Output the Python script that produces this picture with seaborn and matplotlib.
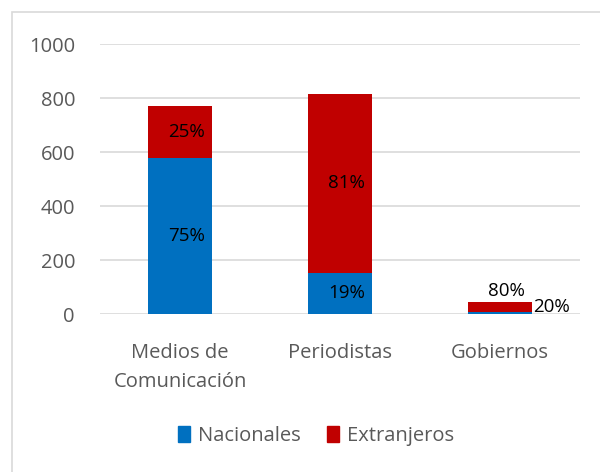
import numpy as np
import pandas as pd
import matplotlib
matplotlib.use("Agg")
import matplotlib.pyplot as plt
from matplotlib.patches import Rectangle, Patch
import seaborn as sns

# datos
categorias = ["Medios de\nComunicación", "Periodistas", "Gobiernos"]
nacionales = [578, 153, 9]
extranjeros = [192, 662, 36]
pct_nac = ["75%", "19%", "20%"]
pct_ext = ["25%", "81%", "80%"]

azul = "#0070c0"
rojo = "#c00000"

df = pd.DataFrame({"cat": categorias, "nac": nacionales, "ext": extranjeros})
df["total"] = df["nac"] + df["ext"]

sns.set_theme(style="white")
plt.rcParams["font.family"] = ["Open Sans", "DejaVu Sans"]

fig = plt.figure(figsize=(6, 4.72), dpi=100)
ax = fig.add_axes([100 / 600, 1 - 314 / 472, 480 / 600, 270 / 472])

sns.barplot(data=df, x="cat", y="total", color=rojo, width=0.4, saturation=1,
            linewidth=0, ax=ax)
sns.barplot(data=df, x="cat", y="nac", color=azul, width=0.4, saturation=1,
            linewidth=0, ax=ax)

ax.set_ylim(0, 1000)
ax.set_yticks(range(0, 1001, 200))
ax.set_xlabel("")
ax.set_ylabel("")
ax.grid(axis="y", color="#d9d9d9", linewidth=1.2)
ax.set_axisbelow(True)
for s in ax.spines.values():
    s.set_visible(False)
ax.tick_params(axis="both", length=0, labelsize=14.5, colors="#595959")
ax.tick_params(axis="x", pad=21)
ax.tick_params(axis="y", pad=18)
for t in ax.get_xticklabels():
    t.set_linespacing(1.6)

# etiquetas de datos
fs = 13.5
for i in range(2):
    n, e = nacionales[i], extranjeros[i]
    ax.text(i + 0.04, n / 2, pct_nac[i], ha="center", va="center", fontsize=fs, color="black")
    ax.text(i + 0.04, n + e / 2, pct_ext[i], ha="center", va="center", fontsize=fs, color="black")
tot = nacionales[2] + extranjeros[2]
ax.text(2.04, tot + 6, pct_ext[2], ha="center", va="bottom", fontsize=fs, color="black")
ax.text(2.21, -6, pct_nac[2], ha="left", va="bottom", fontsize=fs, color="black")

handles = [Patch(color=azul, label="Nacionales"), Patch(color=rojo, label="Extranjeros")]
fig.legend(handles=handles, loc="center", bbox_to_anchor=(316 / 600, 1 - 436 / 472), ncol=2,
           frameon=False, fontsize=14.5, handlelength=0.6, handleheight=0.8,
           handletextpad=0.4, columnspacing=1.3, labelcolor="#595959")

fig.patches.append(Rectangle((12 / 600, -0.1), 1.1, 1 - 12 / 472 + 0.1,
                             transform=fig.transFigure, fill=False,
                             edgecolor="#d9d9d9", linewidth=1.2))

fig.savefig("out.png", dpi=100)
